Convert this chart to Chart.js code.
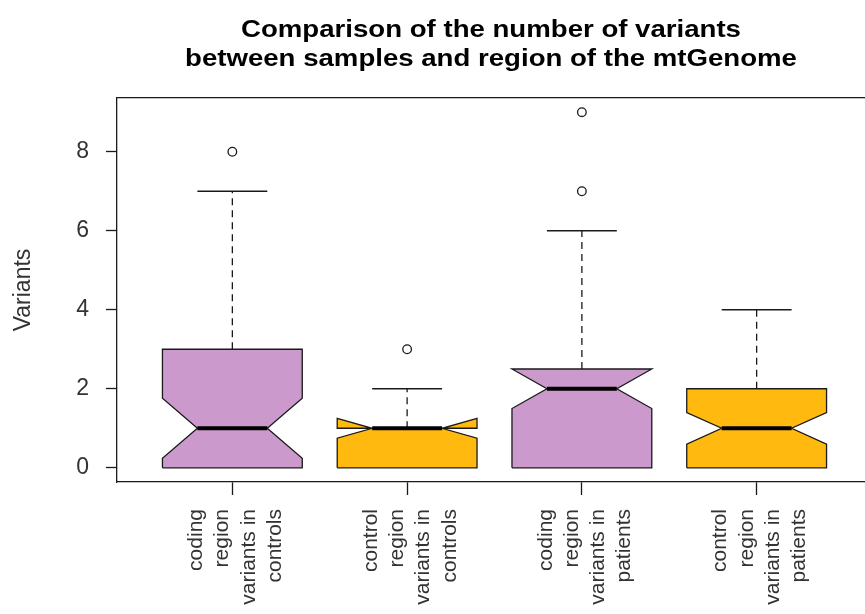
<!DOCTYPE html>
<html>
<head>
<meta charset="utf-8">
<script src="https://cdn.jsdelivr.net/npm/chart.js@4.4.1/dist/chart.umd.min.js"></script>
<style>
  html, body { margin: 0; padding: 0; background: #ffffff; }
  #wrap { width: 865px; height: 614px; }
</style>
</head>
<body>
<div id="wrap"><canvas id="c" width="865" height="614"></canvas></div>
<script>
// ---- data ----
const titleLines = ["Comparison of the number of variants", "between samples and region of the mtGenome"];
const yAxisTitle = "Variants";
const categories = [
  ["coding", "region", "variants in", "controls"],
  ["control", "region", "variants in", "controls"],
  ["coding", "region", "variants in", "patients"],
  ["control", "region", "variants in", "patients"]
];
const lowerWhisker = [0, 0, 0, 0];
const q1Values     = [0, 0, 0, 0];
const medianValues = [1, 1, 2, 1];
const q3Values     = [3, 1, 2.5, 2];
const upperWhisker = [7, 2, 6, 4];
const notchLow     = [0.24, 0.75, 1.5, 0.6];
const notchHigh    = [1.76, 1.25, 2.5, 1.4];
const outliers     = [[8], [3], [7, 9], []];
const yTicks = [0, 2, 4, 6, 8];

// ---- styles ----
const PURPLE = '#CC99CC';
const ORANGE = '#FFB90F';
const boxFill = [PURPLE, ORANGE, PURPLE, ORANGE];
const INK = '#1a1a1a';
const FONT = '"Liberation Sans", Arial, sans-serif';
const HALF = 0.4;      // half box width (x units)
const NOTCH = 0.5;     // notch inset ratio
const STAPLE = 0.5;    // staple ratio

const datasets = [];
categories.forEach((cat, i) => {
  const x = i + 1;
  const w = HALF, nw = HALF * NOTCH;
  const poly = [
    {x: x - w,  y: q1Values[i]},
    {x: x + w,  y: q1Values[i]},
    {x: x + w,  y: notchLow[i]},
    {x: x + nw, y: medianValues[i]},
    {x: x + w,  y: notchHigh[i]},
    {x: x + w,  y: q3Values[i]},
    {x: x - w,  y: q3Values[i]},
    {x: x - w,  y: notchHigh[i]},
    {x: x - nw, y: medianValues[i]},
    {x: x - w,  y: notchLow[i]},
    {x: x - w,  y: q1Values[i]}
  ];
  datasets.push({
    type: 'line', data: poly, order: 10,
    backgroundColor: boxFill[i], borderColor: INK, borderWidth: 1.3,
    fill: 'shape', pointRadius: 0, tension: 0, borderJoinStyle: 'miter'
  });
  datasets.push({
    type: 'line', order: 8,
    data: [{x: x, y: q3Values[i]}, {x: x, y: upperWhisker[i]}],
    borderColor: INK, borderWidth: 1.3, borderDash: [7, 5], pointRadius: 0, fill: false
  });
  const sw = HALF * STAPLE;
  datasets.push({
    type: 'line', order: 7,
    data: [{x: x - sw, y: upperWhisker[i]}, {x: x + sw, y: upperWhisker[i]}],
    borderColor: INK, borderWidth: 1.5, pointRadius: 0, fill: false
  });
  if (lowerWhisker[i] < q1Values[i]) {
    datasets.push({
      type: 'line', order: 8,
      data: [{x: x, y: q1Values[i]}, {x: x, y: lowerWhisker[i]}],
      borderColor: INK, borderWidth: 1.3, borderDash: [7, 5], pointRadius: 0, fill: false
    });
    datasets.push({
      type: 'line', order: 7,
      data: [{x: x - sw, y: lowerWhisker[i]}, {x: x + sw, y: lowerWhisker[i]}],
      borderColor: INK, borderWidth: 1.5, pointRadius: 0, fill: false
    });
  }
  datasets.push({
    type: 'line', order: 2,
    data: [{x: x - nw, y: medianValues[i]}, {x: x + nw, y: medianValues[i]}],
    borderColor: '#000000', borderWidth: 4, pointRadius: 0, fill: false, borderCapStyle: 'butt'
  });
  if (outliers[i].length) {
    datasets.push({
      type: 'scatter', order: 1,
      data: outliers[i].map(v => ({x: x, y: v})),
      showLine: false, pointStyle: 'circle', pointRadius: 4.3,
      pointBackgroundColor: '#ffffff', pointBorderColor: INK, pointBorderWidth: 1.3
    });
  }
});

const mainTitle = {
  id: 'mainTitle',
  afterDraw(chart) {
    const {ctx, chartArea} = chart;
    const cx = (chartArea.left + chartArea.right) / 2;
    const sx = 1.2;
    ctx.save();
    ctx.fillStyle = '#000000';
    ctx.font = 'bold 23px ' + FONT;
    ctx.textAlign = 'center';
    ctx.textBaseline = 'alphabetic';
    ctx.translate(cx, 0);
    ctx.scale(sx, 1);
    ctx.fillText(titleLines[0], 0, 37);
    ctx.fillText(titleLines[1], 0, 66);
    ctx.restore();
  }
};

new Chart(document.getElementById('c'), {
  type: 'scatter',
  data: { datasets },
  plugins: [mainTitle],
  options: {
    responsive: false,
    animation: false,
    devicePixelRatio: 1,
    layout: { autoPadding: false, padding: { top: 98, right: 0, bottom: 0, left: 0 } },
    plugins: { legend: { display: false }, tooltip: { enabled: false }, title: { display: false } },
    scales: {
      x: {
        type: 'linear', position: 'bottom',
        min: 0.34, max: 4.62,
        afterBuildTicks: s => { s.ticks = categories.map((c, i) => ({ value: i + 1 })); },
        afterFit: s => { s.height = 132; s.paddingLeft = 0; s.paddingRight = 0; },
        grid: { drawOnChartArea: false, drawTicks: true, tickLength: 13, color: INK, tickWidth: 1.3 },
        border: { display: true, color: INK, width: 1.3 },
        ticks: {
          autoSkip: false, minRotation: 90, maxRotation: 90,
          padding: 14, labelOffset: -36,
          color: '#333333',
          font: { family: FONT, size: 21, lineHeight: 1.25 },
          callback: (v) => categories[Math.round(v) - 1] || ''
        }
      },
      xTop: {
        type: 'linear', position: 'top', min: 0.34, max: 4.62,
        afterFit: s => { s.height = 0; s.paddingLeft = 0; s.paddingRight = 0; },
        grid: { display: false, drawTicks: false },
        border: { display: true, color: INK, width: 1.3 },
        ticks: { display: false }
      },
      y: {
        type: 'linear', position: 'left',
        min: -0.36, max: 9.36,
        afterBuildTicks: s => { s.ticks = yTicks.map(v => ({ value: v })); },
        afterFit: s => { s.width = 117; s.paddingTop = 0; s.paddingBottom = 0; },
        grid: { drawOnChartArea: false, drawTicks: true, tickLength: 11, color: INK, tickWidth: 1.3 },
        border: { display: true, color: INK, width: 1.3 },
        ticks: {
          padding: 17, color: '#333333',
          font: { family: FONT, size: 23 }
        },
        title: {
          display: true, text: yAxisTitle, color: '#333333',
          padding: { top: 10, bottom: 0 },
          font: { family: FONT, size: 23 }
        }
      }
    }
  }
});
</script>
</body>
</html>
